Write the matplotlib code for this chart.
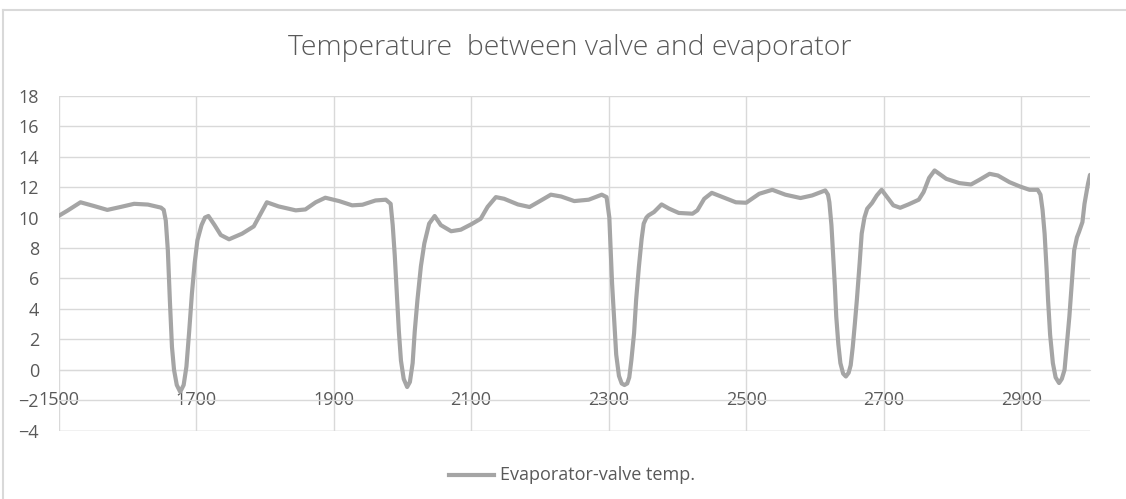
import matplotlib
matplotlib.use("Agg")
import matplotlib.pyplot as plt
from matplotlib.lines import Line2D

x_vals = [1500, 1513, 1532, 1552, 1571, 1591, 1610, 1630, 1649, 1653, 1656, 1659, 1662, 1665, 1668, 1672, 1677, 1682, 1686,
          1690, 1694, 1698, 1702, 1708, 1713, 1718, 1727, 1736, 1748, 1767, 1784, 1794, 1803, 1820, 1845, 1859, 1874, 1888,
          1908, 1927, 1942, 1961, 1976, 1983, 1986, 1989, 1992, 1995, 1998, 2002, 2007, 2011, 2015, 2018, 2022, 2027, 2032,
          2039, 2047, 2056, 2071, 2085, 2100, 2114, 2124, 2136, 2148, 2168, 2185, 2197, 2216, 2231, 2250, 2271, 2290, 2297,
          2301, 2303, 2305, 2308, 2311, 2315, 2319, 2323, 2327, 2330, 2333, 2337, 2340, 2344, 2348, 2351, 2355, 2358, 2366,
          2377, 2388, 2402, 2422, 2429, 2439, 2450, 2466, 2485, 2500, 2519, 2538, 2557, 2579, 2596, 2615, 2619, 2621, 2624,
          2626, 2629, 2631, 2634, 2637, 2641, 2645, 2649, 2652, 2655, 2658, 2661, 2665, 2668, 2672, 2676, 2683, 2690, 2697,
          2705, 2714, 2724, 2736, 2751, 2758, 2766, 2774, 2791, 2810, 2827, 2839, 2854, 2866, 2883, 2898, 2912, 2924, 2928,
          2931, 2934, 2937, 2939, 2942, 2946, 2950, 2955, 2959, 2963, 2966, 2970, 2974, 2977, 2981, 2984, 2989, 2992, 2997,
          3000]
temp_vals = [10.1, 10.45, 11.0, 10.75, 10.5, 10.7, 10.9, 10.85, 10.65, 10.5, 9.8, 7.85, 4.5, 1.5, 0.0, -1.0, -1.45, -1.0, 0.2,
             2.5, 5.0, 7.0, 8.5, 9.5, 10.0, 10.1, 9.5, 8.85, 8.57, 8.94, 9.42, 10.25, 11.0, 10.73, 10.47, 10.53, 11.0, 11.3,
             11.08, 10.8, 10.84, 11.12, 11.17, 10.9, 9.5, 7.5, 5.0, 2.5, 0.6, -0.6, -1.13, -0.8, 0.44, 2.5, 4.6, 6.8, 8.3,
             9.6, 10.1, 9.5, 9.1, 9.2, 9.55, 9.92, 10.7, 11.34, 11.23, 10.86, 10.69, 11.0, 11.5, 11.38, 11.08, 11.17, 11.5, 11.34,
             10.0, 7.8, 5.67, 3.3, 1.0, -0.4, -0.9, -1.0, -0.9, -0.5, 0.6, 2.4, 4.6, 6.76, 8.6, 9.6, 10.0, 10.14, 10.36,
             10.86, 10.58, 10.3, 10.25, 10.47, 11.23, 11.62, 11.34, 11.0, 10.97, 11.56, 11.82, 11.5, 11.28, 11.45, 11.78, 11.5, 11.0, 9.5,
             7.85, 5.5, 3.5, 1.7, 0.44, -0.25, -0.44, -0.2, 0.3, 1.5, 3.0, 4.6, 7.0, 8.94, 10.0, 10.58, 10.95, 11.45, 11.82,
             11.34, 10.8, 10.64, 10.86, 11.17, 11.67, 12.6, 13.09, 12.54, 12.26, 12.17, 12.47, 12.87, 12.76, 12.32, 12.04, 11.82, 11.82, 11.5,
             10.5, 8.94, 6.5, 4.6, 2.3, 0.44, -0.5, -0.87, -0.6, 0.0, 1.5, 3.5, 6.0, 7.85, 8.7, 9.05, 9.7, 10.9, 12.2,
             12.8]

x_ticks = [1500, 1700, 1900, 2100, 2300, 2500, 2700, 2900]
y_ticks = [-4, -2, 0, 2, 4, 6, 8, 10, 12, 14, 16, 18]
title = "Temperature  between valve and evaporator"
series_name = "Evaporator-valve temp."

FONT = ["Open Sans", "DejaVu Sans"]
plt.rcParams['font.family'] = FONT

W, H = 1126, 499
fig = plt.figure(figsize=(W / 100, H / 100), dpi=100)
ax = fig.add_axes([58.5 / W, 1 - 430.7 / H, (1090 - 58.5) / W, 335 / H])

grid_c = "#D9D9D9"
line_c = "#A5A5A5"
text_c = "#595959"

ax.plot(x_vals, temp_vals, color=line_c, lw=3.0, solid_joinstyle="round", solid_capstyle="round",
        zorder=3, label=series_name)
ax.set_xlim(1500, 3000)
ax.set_ylim(-4, 18)
ax.set_yticks(y_ticks)
ax.set_xticks(x_ticks)
ax.grid(True, color=grid_c, lw=1.0, zorder=0)
ax.set_axisbelow(True)
for s in ["top", "right", "left"]:
    ax.spines[s].set_visible(False)
ax.spines["bottom"].set_position(("data", 0))
ax.spines["bottom"].set_color(grid_c)
ax.tick_params(axis="both", length=0, colors=text_c, labelsize=13)
ax.tick_params(axis="x", pad=15)
ax.tick_params(axis="y", pad=14)
ax.axhline(-4, color=grid_c, lw=1.0, zorder=0)

fig.text(570 / W, 1 - 48 / H, title, ha="center", va="center", fontsize=20.5, color=text_c,
         fontweight="light")

# legend
ly = 1 - 475 / H
fig.add_artist(Line2D([449 / W, 494 / W], [ly, ly], color=line_c, lw=3.0))
fig.text(500 / W, ly, series_name, ha="left", va="center", fontsize=13, color=text_c)

# chart border
fig.add_artist(Line2D([3 / W, 1.0], [1 - 10 / H, 1 - 10 / H], color=grid_c, lw=1.5))
fig.add_artist(Line2D([3 / W, 3 / W], [1 - 10 / H, 0], color=grid_c, lw=1.5))

fig.savefig("out.png", dpi=100)
